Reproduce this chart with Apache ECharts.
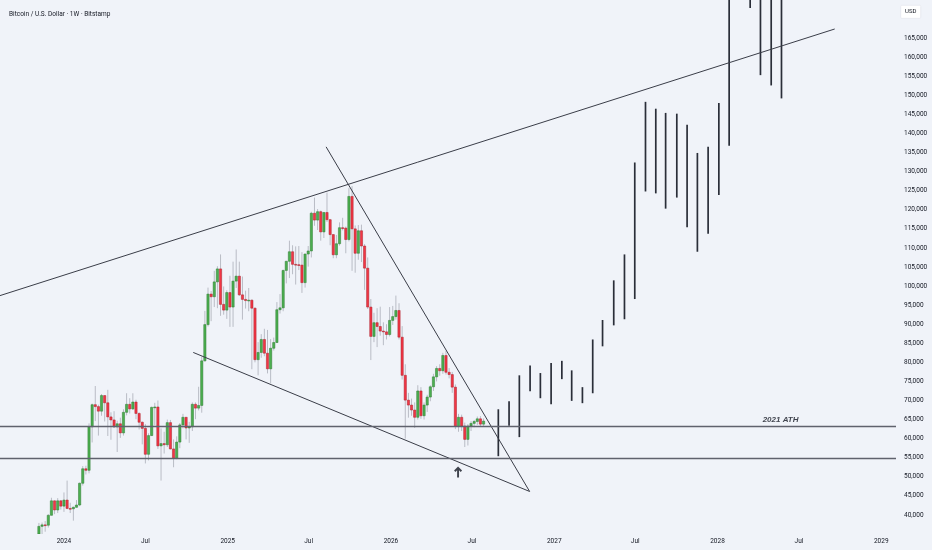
<!DOCTYPE html>
<html>
<head>
<meta charset="utf-8">
<style>
  html, body { margin: 0; padding: 0; background: #f0f3f9; }
  #chart { width: 932px; height: 550px; }
</style>
<script src="https://cdn.jsdelivr.net/npm/echarts@6/dist/echarts.min.js"></script>
</head>
<body>
<div id="chart"></div>
<script>
// ---- Weekly candles, prices in thousands USD: [week start, open, high, low, close]
const candles = [
  ['2023-11-06',35.0,37.9,34.5,37.0],['2023-11-13',37.0,38.0,35.0,37.4],['2023-11-20',37.4,38.4,35.6,37.3],
  ['2023-11-27',37.3,40.2,36.7,39.9],['2023-12-04',39.9,44.5,39.9,43.7],['2023-12-11',43.7,43.8,40.2,41.3],
  ['2023-12-18',41.3,44.4,40.5,43.7],['2023-12-25',43.7,43.9,41.4,42.3],['2024-01-01',42.3,45.9,40.8,43.9],
  ['2024-01-08',43.9,49.0,41.5,41.7],['2024-01-15',41.7,43.2,40.5,41.6],['2024-01-22',41.6,42.2,38.5,42.0],
  ['2024-01-29',42.0,43.9,41.9,42.6],['2024-02-05',42.6,48.5,42.3,48.3],['2024-02-12',48.3,52.8,47.7,52.1],
  ['2024-02-19',52.1,52.9,50.6,51.7],['2024-02-26',51.7,64.0,50.9,63.1],['2024-03-04',63.1,69.2,59.0,68.9],
  ['2024-03-11',68.9,73.8,64.6,68.4],['2024-03-18',68.4,68.9,60.8,67.2],['2024-03-25',67.2,71.7,66.0,71.3],
  ['2024-04-01',71.3,71.3,64.5,69.4],['2024-04-08',69.4,72.8,60.7,65.7],['2024-04-15',65.7,66.9,59.7,64.9],
  ['2024-04-22',64.9,67.2,62.8,63.1],['2024-04-29',63.1,64.7,56.5,63.9],['2024-05-06',63.9,65.5,60.2,61.5],
  ['2024-05-13',61.5,67.7,60.8,66.9],['2024-05-20',66.9,71.9,66.1,69.0],['2024-05-27',69.0,70.6,66.6,67.8],
  ['2024-06-03',67.8,71.9,67.5,69.6],['2024-06-10',69.6,70.2,65.1,66.6],['2024-06-17',66.6,66.9,62.4,64.3],
  ['2024-06-24',64.3,64.5,58.5,62.7],['2024-07-01',62.7,63.8,53.5,55.9],['2024-07-08',55.9,61.4,54.3,60.8],
  ['2024-07-15',60.8,68.4,60.7,68.2],['2024-07-22',68.2,69.4,63.5,68.3],['2024-07-29',68.3,70.0,57.3,58.1],
  ['2024-08-05',58.1,62.7,49.0,58.7],['2024-08-12',58.7,61.8,56.1,58.4],['2024-08-19',58.4,65.0,57.8,64.2],
  ['2024-08-26',64.2,64.9,57.2,57.3],['2024-09-02',57.3,59.8,52.5,54.8],['2024-09-09',54.8,60.6,54.6,59.1],
  ['2024-09-16',59.1,64.1,57.5,63.6],['2024-09-23',63.6,66.5,62.7,65.6],['2024-09-30',65.6,65.6,59.8,62.8],
  ['2024-10-07',62.8,64.4,58.9,63.1],['2024-10-14',63.1,69.5,62.0,69.0],['2024-10-21',69.0,69.5,65.1,68.0],
  ['2024-10-28',68.0,73.6,67.4,68.7],['2024-11-04',68.7,81.5,66.8,80.4],['2024-11-11',80.4,93.5,80.2,89.9],
  ['2024-11-18',89.9,99.6,89.4,97.9],['2024-11-25',97.9,98.7,90.8,97.2],['2024-12-02',97.2,104.0,94.5,101.1],
  ['2024-12-09',101.1,105.2,94.2,104.5],['2024-12-16',104.5,108.3,92.2,95.2],['2024-12-23',95.2,99.9,92.5,93.7],
  ['2024-12-30',93.7,98.9,91.4,98.3],['2025-01-06',98.3,102.7,89.3,94.5],['2025-01-13',94.5,106.4,89.3,101.3],
  ['2025-01-20',101.3,109.6,99.5,102.6],['2025-01-27',102.6,106.4,97.4,97.7],['2025-02-03',97.7,102.5,91.2,96.5],
  ['2025-02-10',96.5,98.8,94.1,96.2],['2025-02-17',96.2,99.5,93.4,96.3],['2025-02-24',96.3,96.5,78.2,94.2],
  ['2025-03-03',94.2,94.4,80.0,80.7],['2025-03-10',80.7,85.3,76.6,82.6],['2025-03-17',82.6,87.4,81.2,86.0],
  ['2025-03-24',86.0,88.8,81.6,82.4],['2025-03-31',82.4,88.5,77.1,78.3],['2025-04-07',78.3,86.1,74.5,83.7],
  ['2025-04-14',83.7,86.5,83.1,85.2],['2025-04-21',85.2,95.8,85.1,93.8],['2025-04-28',93.8,97.9,92.8,94.3],
  ['2025-05-05',94.3,104.3,93.4,104.1],['2025-05-12',104.1,106.6,100.7,106.5],['2025-05-19',106.5,111.9,102.1,109.0],
  ['2025-05-26',109.0,110.7,103.1,105.7],['2025-06-02',105.7,110.4,100.4,105.6],['2025-06-09',105.6,110.5,104.2,105.5],
  ['2025-06-16',105.5,108.9,98.2,100.9],['2025-06-23',100.9,108.5,99.6,108.4],['2025-06-30',108.4,110.5,105.1,109.2],
  ['2025-07-07',109.2,119.5,107.5,119.1],['2025-07-14',119.1,123.2,115.8,117.3],['2025-07-21',117.3,120.2,114.7,119.5],
  ['2025-07-28',119.5,119.8,111.9,114.2],['2025-08-04',114.2,119.3,112.6,119.3],['2025-08-11',119.3,124.5,116.8,117.4],
  ['2025-08-18',117.4,117.6,110.7,113.5],['2025-08-25',113.5,113.6,107.3,108.2],['2025-09-01',108.2,113.4,107.3,111.1],
  ['2025-09-08',111.1,116.7,110.6,115.3],['2025-09-15',115.3,117.9,114.6,115.2],['2025-09-22',115.2,115.6,108.6,112.2],
  ['2025-09-29',112.2,125.7,111.7,123.5],['2025-10-06',123.5,126.2,104.0,115.0],['2025-10-13',115.0,115.9,103.5,108.6],
  ['2025-10-20',108.6,116.0,106.9,114.5],['2025-10-27',114.5,116.1,106.3,110.5],['2025-11-03',110.5,111.0,99.0,104.7],
  ['2025-11-10',104.7,107.5,94.0,94.5],['2025-11-17',94.5,96.6,80.6,86.8],['2025-11-24',86.8,93.0,85.3,90.4],
  ['2025-12-01',90.4,94.2,84.0,89.4],['2025-12-08',89.4,94.6,87.0,88.2],['2025-12-15',88.2,90.5,84.5,88.0],
  ['2025-12-22',88.0,90.0,86.0,87.3],['2025-12-29',87.3,94.5,86.8,91.0],['2026-01-05',91.0,94.8,89.8,92.0],
  ['2026-01-12',92.0,97.5,91.2,93.6],['2026-01-19',93.6,95.5,86.0,86.6],['2026-01-26',86.6,89.5,75.5,76.6],
  ['2026-02-02',76.6,79.5,60.0,70.1],['2026-02-09',70.1,72.0,65.5,68.8],['2026-02-16',68.8,70.5,66.0,67.5],
  ['2026-02-23',67.5,69.5,62.8,65.6],['2026-03-02',65.6,74.0,65.0,72.5],['2026-03-09',72.5,73.5,65.2,66.0],
  ['2026-03-16',66.0,69.5,65.0,68.8],['2026-03-23',68.8,71.5,67.0,70.9],['2026-03-30',70.9,74.0,69.8,73.6],
  ['2026-04-06',73.6,77.0,72.5,76.2],['2026-04-13',76.2,79.0,75.0,78.4],['2026-04-20',78.4,79.5,76.5,77.8],
  ['2026-04-27',77.8,82.5,77.0,81.8],['2026-05-04',81.8,83.0,76.8,77.4],['2026-05-11',77.4,78.5,75.8,76.8],
  ['2026-05-18',76.8,77.5,72.0,73.5],['2026-05-25',73.5,74.2,62.5,63.2],['2026-06-01',63.2,66.5,61.8,65.6],
  ['2026-06-08',65.6,66.3,62.0,63.3],['2026-06-15',63.3,64.2,57.8,59.8],['2026-06-22',59.8,63.8,58.2,63.3],
  ['2026-06-29',63.3,64.6,62.0,64.0],['2026-07-06',64.0,64.9,63.0,64.5],['2026-07-13',64.5,65.8,63.6,65.2],
  ['2026-07-20',65.2,65.9,63.3,63.8],['2026-07-27',63.8,65.3,63.2,64.6]
];

// ---- Projected bars (high-low), thousands USD: [date, low, high]
const projection = [
  ['2026-08-29',55.4,67.7],['2026-09-22',63.4,69.8],['2026-10-15',60.4,76.6],['2026-11-08',72.4,79.2],
  ['2026-12-01',70.6,77.2],['2026-12-25',69.0,79.8],['2027-01-18',75.6,80.4],['2027-02-09',69.9,77.9],
  ['2027-03-05',69.3,73.5],['2027-03-28',71.9,86.0],['2027-04-19',84.2,91.1],['2027-05-14',89.7,101.5],
  ['2027-06-07',91.3,108.3],['2027-06-30',96.6,132.4],['2027-07-24',124.8,148.3],['2027-08-16',124.3,146.5],
  ['2027-09-07',120.3,145.4],['2027-10-02',123.2,145.2],['2027-10-25',115.4,142.3],['2027-11-17',109.0,134.9],
  ['2027-12-11',113.7,136.5],['2028-01-04',123.9,148.0],['2028-01-27',136.8,182.0],['2028-02-19',178.0,200.0],
  ['2028-03-14',172.9,195.0],['2028-04-06',155.3,190.0],['2028-04-30',152.6,188.0],['2028-05-23',149.2,185.0]
];

// ---- Drawn trend lines, [date, price in thousands]
const resistanceLine = [['2023-08-11',97.5],['2028-09-19',167.4]];
const wedgeUpper = [['2025-08-09',136.5],['2026-11-07',46.15]];
const wedgeLower = [['2024-10-16',82.6],['2026-11-07',46.15]];
const levelLines = [63.3, 54.8];          // 2021 ATH level, support
const athLabel = ['2028-05-21', 63.3, '2021 ATH'];
const arrowPoint = ['2026-05-31', 51.25];

// ---- Axis settings
const xRange = ['2023-08-11','2029-02-03'];
const xTickDates = ['2024-01-01','2024-07-01','2025-01-01','2025-07-01','2026-01-01','2026-07-01',
                    '2027-01-01','2027-07-01','2028-01-01','2028-07-01','2029-01-01'];
const yMin = 35000, yMax = 175000, yStep = 5000;
const yLabelLow = 40000, yLabelHigh = 165000;

const ts = d => { const p = d.split('-').map(Number); return Date.UTC(p[0], p[1]-1, p[2]); };
const K = 1000;
const WEEK = 7*86400000;
const MONTHS = ['Jan','Feb','Mar','Apr','May','Jun','Jul','Aug','Sep','Oct','Nov','Dec'];

const candleData = candles.map(r => [ts(r[0]), r[1]*K, r[2]*K, r[3]*K, r[4]*K]);
const projData = projection.map(r => [ts(r[0]), r[1]*K, r[2]*K]);
const toLine = arr => arr.map(r => [ts(r[0]), r[1]*K]);

const lineStyleTrend = { color: '#3a3d48', width: 1 };

const chart = echarts.init(document.getElementById('chart'), null, { renderer: 'canvas' });
chart.setOption({
  backgroundColor: '#f0f3f9',
  animation: false,
  title: {
    text: 'Bitcoin / U.S. Dollar · 1W · Bitstamp',
    left: 4, top: 6,
    textStyle: { fontSize: 6.5, fontWeight: 'normal', color: '#131722', fontFamily: 'Roboto' }
  },
  grid: { left: 0, right: 36, top: -1, bottom: 16 },
  xAxis: {
    type: 'value',
    min: ts(xRange[0]), max: ts(xRange[1]),
    axisLine: { show: false }, axisTick: { show: false }, splitLine: { show: false },
    axisLabel: {
      customValues: xTickDates.map(ts),
      margin: 4, fontSize: 6.5, color: '#131722', fontFamily: 'Roboto',
      formatter: v => { const d = new Date(v); return d.getUTCMonth() === 0 ? String(d.getUTCFullYear()) : MONTHS[d.getUTCMonth()]; }
    }
  },
  yAxis: {
    type: 'value', position: 'right',
    min: yMin, max: yMax, interval: yStep,
    axisLine: { show: false }, axisTick: { show: false }, splitLine: { show: false },
    axisLabel: {
      margin: 8, fontSize: 6.5, color: '#131722', fontFamily: 'Roboto',
      formatter: v => (v < yLabelLow || v > yLabelHigh) ? '' : v.toLocaleString('en-US')
    }
  },
  graphic: [{
    type: 'group', right: 11, top: 5,
    children: [
      { type: 'rect', shape: { x: 0, y: 0, width: 20, height: 13, r: 1 }, style: { fill: '#ffffff', stroke: '#e0e3eb', lineWidth: 0.6 } },
      { type: 'text', x: 10, y: 6.5, style: { text: 'USD', fill: '#131722', fontSize: 6, fontFamily: 'Roboto', align: 'center', verticalAlign: 'middle' } }
    ]
  }],
  series: [
    {
      name: 'levels', type: 'line', data: [], silent: true,
      markLine: {
        silent: true, symbol: ['none','none'], label: { show: false },
        lineStyle: { color: '#5f626d', width: 1.4, type: 'solid' },
        data: levelLines.map(v => ({ yAxis: v*K }))
      }
    },
    { name: 'resistance', type: 'line', data: toLine(resistanceLine), symbol: 'none', silent: true, lineStyle: lineStyleTrend },
    { name: 'wedgeUpper', type: 'line', data: toLine(wedgeUpper), symbol: 'none', silent: true, lineStyle: lineStyleTrend },
    { name: 'wedgeLower', type: 'line', data: toLine(wedgeLower), symbol: 'none', silent: true, lineStyle: lineStyleTrend },
    {
      name: 'candles', type: 'custom', clip: true,
      encode: { x: 0, y: [1, 2, 3, 4] },
      data: candleData,
      renderItem: function (params, api) {
        const t = api.value(0), o = api.value(1), h = api.value(2), l = api.value(3), c = api.value(4);
        const pO = api.coord([t, o]), pC = api.coord([t, c]), pH = api.coord([t, h]), pL = api.coord([t, l]);
        const w = api.size([WEEK, 0])[0] * 0.72;
        const up = c >= o;
        const top = Math.min(pO[1], pC[1]), bot = Math.max(pO[1], pC[1]);
        return {
          type: 'group',
          children: [
            { type: 'line', shape: { x1: pH[0], y1: pH[1], x2: pL[0], y2: pL[1] }, style: { stroke: '#b9bcc5', lineWidth: 1 } },
            { type: 'rect', shape: { x: pO[0] - w/2, y: top, width: w, height: Math.max(bot - top, 0.8) },
              style: { fill: up ? '#4caf50' : '#f23645', stroke: up ? '#2f7a33' : '#a9222d', lineWidth: 0.5 } }
          ]
        };
      }
    },
    {
      name: 'projection', type: 'custom', clip: true,
      encode: { x: 0, y: [1, 2] },
      data: projData,
      renderItem: function (params, api) {
        const t = api.value(0);
        const pL = api.coord([t, api.value(1)]), pH = api.coord([t, api.value(2)]);
        return { type: 'line', shape: { x1: pL[0], y1: pL[1], x2: pH[0], y2: pH[1] }, style: { stroke: '#2a2e39', lineWidth: 1.7 } };
      }
    },
    {
      name: 'athLabel', type: 'scatter', silent: true, symbolSize: 0,
      data: [[ts(athLabel[0]), athLabel[1]*K]],
      label: {
        show: true, position: 'top', distance: 2, formatter: athLabel[2],
        fontSize: 8, fontWeight: 'bold', fontStyle: 'italic', color: '#131722', fontFamily: 'Liberation Sans'
      }
    },
    {
      name: 'arrow', type: 'scatter', silent: true,
      symbol: 'path://M5,0 L10,5.2 L8.3,6.9 L6.2,4.8 L6.2,14 L3.8,14 L3.8,4.8 L1.7,6.9 L0,5.2 Z',
      symbolSize: [8, 11],
      itemStyle: { color: '#131722' },
      data: [[ts(arrowPoint[0]), arrowPoint[1]*K]]
    }
  ]
});
</script>
</body>
</html>
